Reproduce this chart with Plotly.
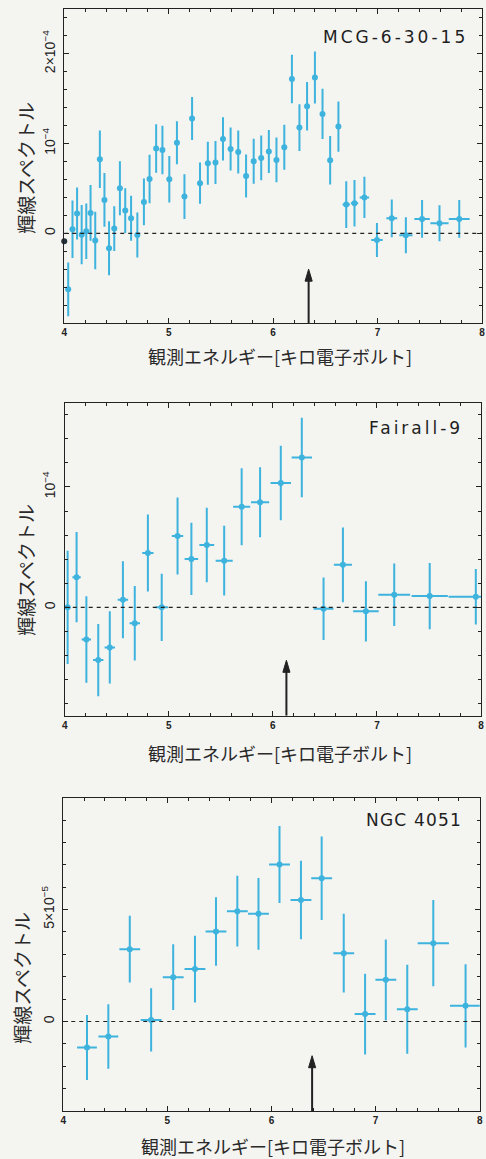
import numpy as np
import plotly.graph_objects as go

# ---------------- data ----------------
# MCG-6-30-15 (line flux in units of 1e-4)
mcg_energy = [4.038, 4.079, 4.123, 4.167, 4.211, 4.252, 4.297, 4.341, 4.385, 4.429,
              4.479, 4.533, 4.584, 4.640, 4.700, 4.763, 4.817, 4.880, 4.940, 5.006,
              5.079, 5.151, 5.224, 5.300, 5.375, 5.448, 5.520, 5.593, 5.666, 5.741,
              5.814, 5.886, 5.959, 6.032, 6.107, 6.180, 6.252, 6.325, 6.400, 6.473,
              6.546, 6.625, 6.700, 6.779, 6.874, 6.994, 7.136, 7.271, 7.426, 7.593,
              7.782]
mcg_flux = [-0.625, 0.045, 0.22, -0.015, 0.022, 0.227, -0.08, 0.825, 0.372, -0.167,
            0.052, 0.502, 0.253, 0.167, -0.019, 0.35, 0.606, 0.944, 0.929, 0.602,
            1.01, 0.409, 1.28, 0.558, 0.781, 0.788, 1.052, 0.94, 0.907, 0.639,
            0.803, 0.84, 0.911, 0.818, 0.959, 1.72, 1.178, 1.416, 1.736, 1.331,
            0.814, 1.19, 0.32, 0.335, 0.40, -0.074, 0.167, -0.022, 0.16, 0.112,
            0.16]
mcg_flux_err = [0.30, 0.32, 0.29, 0.33, 0.31, 0.31, 0.32, 0.32, 0.30, 0.30,
                0.25, 0.30, 0.25, 0.25, 0.25, 0.26, 0.27, 0.27, 0.27, 0.26,
                0.24, 0.25, 0.24, 0.23, 0.24, 0.24, 0.24, 0.24, 0.24, 0.24,
                0.25, 0.25, 0.24, 0.25, 0.25, 0.27, 0.26, 0.27, 0.29, 0.28,
                0.27, 0.28, 0.26, 0.26, 0.23, 0.19, 0.21, 0.20, 0.21, 0.20,
                0.21]
mcg_energy_err = [0.02] * 42 + [0.035, 0.035, 0.045, 0.055, 0.052, 0.063, 0.074, 0.087, 0.10]
mcg_edge_energy = [4.0]
mcg_edge_flux = [-0.09]

# Fairall-9 (units of 1e-4)
f9_energy = [4.028, 4.114, 4.208, 4.322, 4.433, 4.559, 4.673, 4.799, 4.932, 5.084,
             5.217, 5.365, 5.532, 5.700, 5.877, 6.076, 6.278, 6.487, 6.673, 6.894,
             7.166, 7.507, 7.950]
f9_flux = [0.0, 0.251, -0.267, -0.438, -0.333, 0.063, -0.132, 0.452, 0.0, 0.592,
           0.402, 0.518, 0.388, 0.835, 0.873, 1.033, 1.245, -0.011, 0.353, -0.033,
           0.105, 0.094, 0.088]
f9_flux_err = [0.47, 0.375, 0.36, 0.30, 0.30, 0.32, 0.31, 0.32, 0.28, 0.32,
               0.30, 0.31, 0.29, 0.32, 0.29, 0.31, 0.33, 0.26, 0.31, 0.25,
               0.26, 0.275, 0.23]
f9_energy_err = [0.028, 0.04, 0.045, 0.05, 0.05, 0.05, 0.05, 0.054, 0.06, 0.055,
                 0.065, 0.071, 0.082, 0.082, 0.087, 0.098, 0.098, 0.095, 0.087, 0.123,
                 0.153, 0.174, 0.262]

# NGC 4051 (units of 1e-5)
ngc_energy = [4.228, 4.433, 4.639, 4.844, 5.056, 5.265, 5.467, 5.672, 5.875, 6.077,
              6.283, 6.482, 6.694, 6.899, 7.098, 7.304, 7.554, 7.864]
ngc_flux = [-1.16, -0.67, 3.23, 0.07, 1.98, 2.34, 4.02, 4.93, 4.81, 7.02,
            5.43, 6.40, 3.05, 0.33, 1.86, 0.55, 3.50, 0.70]
ngc_flux_err = [1.45, 1.44, 1.49, 1.41, 1.47, 1.49, 1.53, 1.58, 1.60, 1.72,
                1.75, 1.87, 1.76, 1.80, 1.80, 1.99, 1.93, 1.86]
ngc_energy_err = [0.095, 0.095, 0.1, 0.1, 0.1, 0.1, 0.1, 0.1, 0.1, 0.1,
                  0.1, 0.1, 0.1, 0.1, 0.1, 0.1, 0.15, 0.15]

# Expected line energies (arrows) and their tip heights
arrow_energy = [6.34, 6.13, 6.39]
arrow_tip = [-0.40e-4, -0.44e-4, -1.53e-5]

panel_names = ["MCG-6-30-15", "Fairall-9", "NGC 4051"]
y_ranges = [(-1.0e-4, 2.5e-4), (-0.9e-4, 1.7e-4), (-4.0e-5, 1.0e-4)]
y_tickvals = [[0, 1e-4, 2e-4], [0, 1e-4], [0, 5e-5]]
y_ticktext = [["0", "10<sup>−4</sup>", "2×10<sup>−4</sup>"],
              ["0", "10<sup>−4</sup>"],
              ["0", "5×10<sup>−5</sup>"]]
y_minor = [2e-5, 2e-5, 1e-5]
x_tickvals = [4, 5, 6, 7, 8]

x_title = "観測エネルギー[キロ電子ボルト]"
y_title = "輝線スペクトル"

# ---------------- layout geometry (pixels) ----------------
W, H = 486, 1159
# (left, right, top, bottom) of each plotting frame
frames = [(62, 485, 9, 323), (62.5, 484, 402.7, 715.7), (61, 482.7, 797.7, 1111)]
x_title_pos = [(280, 356), (280, 752.5), (273, 1146)]
y_title_pos = [(22, 168), (22, 570), (18, 978)]
name_pos = [(473, 37), (468, 427.7), (467, 820)]
name_spacing = [3.0, 3.0, 1.2]

CYAN = "#3db3dd"
INK = "#222222"
BG = "#f4f4f1"


def px(xp):
    return xp / W


def py(yp):
    return 1 - yp / H


series = [
    (mcg_energy, mcg_flux, mcg_flux_err, mcg_energy_err, 1e-4),
    (f9_energy, f9_flux, f9_flux_err, f9_energy_err, 1e-4),
    (ngc_energy, ngc_flux, ngc_flux_err, ngc_energy_err, 1e-5),
]

fig = go.Figure()
shapes = []
annotations = []
layout_axes = {}

for i, (ex, fy, fe, xe, unit) in enumerate(series):
    n = "" if i == 0 else str(i + 1)
    xa, ya = "x" + n, "y" + n
    left, right, top, bottom = frames[i]

    fig.add_trace(go.Scatter(
        x=ex, y=np.array(fy) * unit, mode="markers",
        xaxis=xa, yaxis=ya, showlegend=False,
        marker=dict(color=CYAN, size=6, symbol="circle"),
        error_y=dict(type="data", array=np.array(fe) * unit, color=CYAN,
                     thickness=2, width=0),
        error_x=dict(type="data", array=xe, color=CYAN, thickness=2, width=0),
        cliponaxis=True,
    ))

    y0, y1 = y_ranges[i]
    layout_axes["xaxis" + n] = dict(
        domain=[px(left), px(right)], anchor=ya, range=[4, 8],
        tickvals=x_tickvals, ticktext=[str(v) for v in x_tickvals],
        ticks="inside", ticklen=5, tickwidth=1, tickcolor=INK,
        minor=dict(dtick=0.2, tick0=4, ticks="inside", ticklen=3, tickcolor=INK),
        showline=True, linecolor=INK, linewidth=1, mirror="ticks",
        showgrid=False, zeroline=False,
        tickfont=dict(family="Liberation Sans", size=10, color=INK, weight="bold"),
    )
    layout_axes["yaxis" + n] = dict(
        domain=[py(bottom), py(top)], anchor=xa, range=[y0, y1],
        tickvals=y_tickvals[i], ticktext=y_ticktext[i], tickangle=-90,
        ticks="inside", ticklen=5, tickwidth=1, tickcolor=INK,
        minor=dict(dtick=y_minor[i], tick0=0, ticks="inside", ticklen=3, tickcolor=INK),
        showline=True, linecolor=INK, linewidth=1, mirror="ticks",
        showgrid=False, zeroline=False, ticklabelstandoff=3,
        tickfont=dict(family="Liberation Sans", size=14, color=INK),
    )

    # dashed zero level
    shapes.append(dict(type="line", xref=xa, yref=ya, x0=4, x1=8, y0=0, y1=0,
                       line=dict(color=INK, width=1.2, dash="4px,4px")))

    # arrow marking the line energy: shaft plus filled head pointing up
    ax_e = arrow_energy[i]
    tip = arrow_tip[i]
    keV_per_px = 4.0 / (right - left)
    flux_per_px = (y1 - y0) / (bottom - top)
    head_len = 12 * flux_per_px
    head_half = 3.6 * keV_per_px
    shapes.append(dict(type="line", xref=xa, yref=ya, x0=ax_e, x1=ax_e,
                       y0=y0, y1=tip - head_len * 0.8,
                       line=dict(color=INK, width=2)))
    shapes.append(dict(
        type="path", xref=xa, yref=ya,
        path=(f"M {ax_e - head_half},{tip - head_len} "
              f"L {ax_e + head_half},{tip - head_len} L {ax_e},{tip} Z"),
        fillcolor=INK, line=dict(color=INK, width=1)))

    # axis titles
    annotations.append(dict(
        text=x_title, xref="paper", yref="paper",
        x=px(x_title_pos[i][0]), y=py(x_title_pos[i][1]),
        xanchor="center", yanchor="middle", showarrow=False,
        font=dict(family="Noto Sans CJK JP", size=18, color="#2a2a2a")))
    annotations.append(dict(
        text=y_title, xref="paper", yref="paper",
        x=px(y_title_pos[i][0]), y=py(y_title_pos[i][1]),
        xanchor="center", yanchor="middle", showarrow=False, textangle=-90,
        font=dict(family="Noto Sans CJK JP", size=19, color="#2a2a2a")))

    # object name
    annotations.append(dict(
        text=f'<span style="letter-spacing:{name_spacing[i]}px">{panel_names[i]}</span>',
        xref="paper", yref="paper",
        x=px(name_pos[i][0]), y=py(name_pos[i][1]),
        xanchor="right", yanchor="middle", showarrow=False,
        font=dict(family="DejaVu Sans", size=17, color="#1e1e1e")))

# dark point sitting on the left frame of the first panel
fig.add_trace(go.Scatter(
    x=mcg_edge_energy, y=np.array(mcg_edge_flux) * 1e-4, mode="markers",
    xaxis="x", yaxis="y", showlegend=False, cliponaxis=False,
    marker=dict(color="#23323a", size=6),
))

fig.update_layout(
    width=W, height=H,
    margin=dict(l=0, r=0, t=0, b=0),
    paper_bgcolor=BG, plot_bgcolor=BG,
    shapes=shapes, annotations=annotations,
    showlegend=False,
    **layout_axes,
)

fig.write_html("out.html")
